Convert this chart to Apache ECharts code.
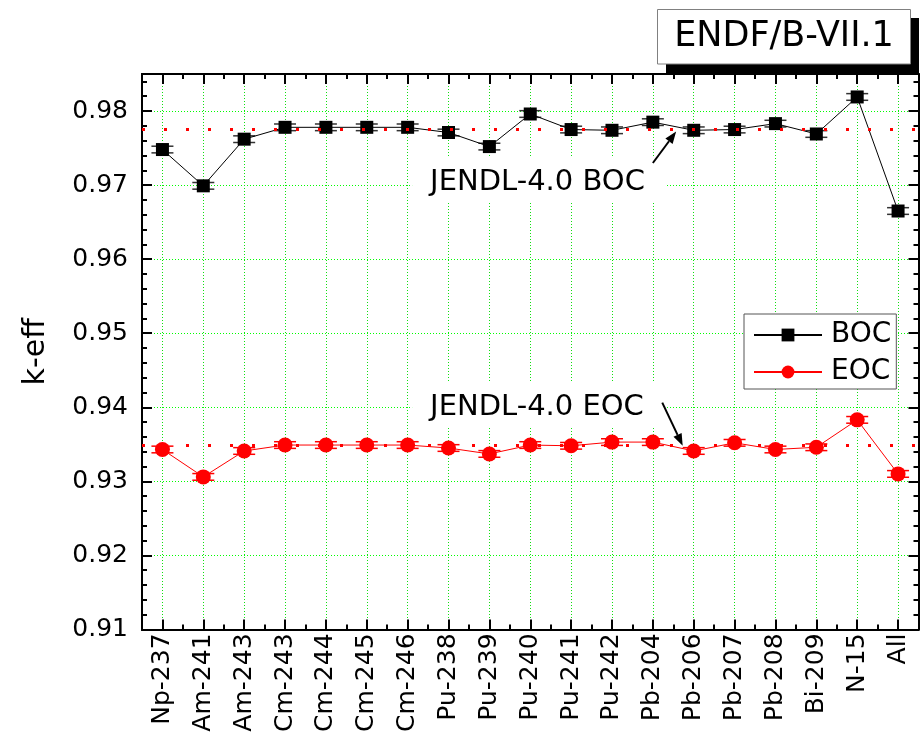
<!DOCTYPE html>
<html><head><meta charset="utf-8">
<script src="https://cdn.jsdelivr.net/npm/echarts@6/dist/echarts.min.js"></script>
<style>html,body{margin:0;padding:0;background:#fff}#c{width:920px;height:735px}</style>
</head><body><div id="c"></div>
<script>
const categories = ['Np-237','Am-241','Am-243','Cm-243','Cm-244','Cm-245','Cm-246','Pu-238','Pu-239','Pu-240','Pu-241','Pu-242','Pb-204','Pb-206','Pb-207','Pb-208','Bi-209','N-15','All'];
const bocValues = [0.9748,0.9699,0.9762,0.9778,0.9778,0.9778,0.9778,0.9771,0.9752,0.9796,0.9775,0.9774,0.9785,0.9774,0.9775,0.9783,0.9769,0.9819,0.9665];
const eocValues = [0.9343,0.9306,0.9341,0.9349,0.9349,0.9349,0.9349,0.9345,0.9337,0.9349,0.9348,0.9353,0.9353,0.9341,0.9352,0.9343,0.9346,0.9383,0.9310];
const bocErrors = [0.00045,0.00045,0.00045,0.00045,0.00045,0.00045,0.00045,0.00045,0.00045,0.00045,0.00045,0.00045,0.00045,0.00045,0.00045,0.00045,0.00045,0.00045,0.00045];
const eocErrors = [0.00045,0.00045,0.00045,0.00045,0.00045,0.00045,0.00045,0.00045,0.00045,0.00045,0.00045,0.00045,0.00045,0.00045,0.00045,0.00045,0.00045,0.00045,0.00045];
const jendlBoc = 0.9776;
const jendlEoc = 0.9349;
const yMin = 0.91, yMax = 0.985, yMajor = 0.01, yMinor = 0.002;
const seriesNames = ['BOC','EOC'];
const titleText = 'ENDF/B-VII.1';
const noteBoc = 'JENDL-4.0 BOC';
const noteEoc = 'JENDL-4.0 EOC';

const FONT = 'DejaVu Sans';
const GRID_GREEN = '#11e011';
const chart = echarts.init(document.getElementById('c'), null, {renderer:'canvas'});

function errRender(color){
  return function(params, api){
    const x = api.value(0), y = api.value(1), e = api.value(2);
    const hi = api.coord([x, y + e]), lo = api.coord([x, y - e]);
    const w = 11;
    const st = {stroke: color, lineWidth: 1.5};
    return {type:'group', children:[
      {type:'line', shape:{x1:hi[0]-w,y1:hi[1],x2:hi[0]+w,y2:hi[1]}, style:st},
      {type:'line', shape:{x1:lo[0]-w,y1:lo[1],x2:lo[0]+w,y2:lo[1]}, style:st},
      {type:'line', shape:{x1:hi[0],y1:hi[1],x2:lo[0],y2:lo[1]}, style:st}
    ]};
  };
}

function catAxis(pos, major){
  const showGrid = pos==='bottom' && major;
  return {
    type:'category', position:pos, data:categories, boundaryGap:true,
    axisLine:{show:true, onZero:false, lineStyle:{color:'#000', width:2}},
    axisTick:{show:true, inside:true, interval:0, alignWithLabel:major, length: major?10:5, lineStyle:{color:'#000', width:2}},
    axisLabel:{show: showGrid, interval:0, rotate:90, fontSize:25, margin:4, color:'#000', fontFamily:FONT},
    splitLine:{show:showGrid, alignWithLabel:true, interval:0, lineStyle:{color:GRID_GREEN, width:1, type:[1,2]}}
  };
}
function valAxis(pos, major){
  const a = {
    type:'value', position:pos, min:yMin, max:yMax, interval: major?yMajor:yMinor,
    axisLine:{show: major, onZero:false, lineStyle:{color:'#000', width:2}},
    axisTick:{show:true, inside:true, length: major?10:5, lineStyle:{color:'#000', width:2}},
    axisLabel:{show: pos==='left' && major, showMaxLabel:false, fontSize:25, margin:14, color:'#000', fontFamily:FONT,
      formatter: v => v.toFixed(2)},
    splitLine:{show: pos==='left' && major, lineStyle:{color:'#00ff00', width:1, type:[1,2], dashOffset:0, cap:'butt', opacity:1}},
    minorSplitLine:{show:false}
  };
  if (pos==='left' && major){
    a.name = 'k-eff'; a.nameLocation = 'middle'; a.nameGap = 91;
    a.nameTextStyle = {fontSize:30, color:'#000', fontFamily:FONT};
  }
  return a;
}

const option = {
  animation:false,
  backgroundColor:'#fff',
  textStyle:{fontFamily:FONT},
  grid:{left:142, right:1.5, top:74, bottom:102.5, containLabel:false},
  xAxis:[catAxis('bottom',true), catAxis('bottom',false), catAxis('top',true), catAxis('top',false)],
  yAxis:[valAxis('left',true), valAxis('left',false), valAxis('right',true), valAxis('right',false)],
  legend:{
    data:seriesNames, orient:'vertical', left:744, top:314,
    itemWidth:68, itemHeight:16, itemGap:9, padding:[7,5,3,9],
    borderColor:'#555', borderWidth:1, backgroundColor:'#fff',
    textStyle:{fontSize:28, color:'#000', fontFamily:FONT, padding:[0,0,0,4]}
  },
  series:[
    {type:'custom', name:'bocErr', renderItem:errRender('#333'), z:2, silent:true,
     data: categories.map((c,i)=>[i, bocValues[i], bocErrors[i]])},
    {type:'custom', name:'eocErr', renderItem:errRender('#ff0000'), z:2, silent:true,
     data: categories.map((c,i)=>[i, eocValues[i], eocErrors[i]])},
    {type:'line', name:'BOC', data:bocValues, symbol:'rect', symbolSize:13, z:3,
     itemStyle:{color:'#000'}, lineStyle:{color:'#000', width:1},
     markLine:{silent:true, precision:5, symbol:['none','none'], label:{show:false}, z:5,
       lineStyle:{color:'#ff0000', width:3, type:[3,19]},
       data:[{yAxis:jendlBoc},{yAxis:jendlEoc}]}},
    {type:'line', name:'EOC', data:eocValues, symbol:'circle', symbolSize:15, z:3,
     itemStyle:{color:'#ff0000'}, lineStyle:{color:'#ff0000', width:1}}
  ]
};
chart.setOption(option);

function arrow(tail, head, z){
  const dx = head[0]-tail[0], dy = head[1]-tail[1];
  const L = Math.hypot(dx,dy), ux = dx/L, uy = dy/L;
  const hl = 12, hw = 4.5;
  const bx = head[0]-ux*hl, by = head[1]-uy*hl;
  return [
    {type:'line', z:z, shape:{x1:tail[0],y1:tail[1],x2:bx,y2:by}, style:{stroke:'#000', lineWidth:2}},
    {type:'polygon', z:z, shape:{points:[[head[0],head[1]],[bx-uy*hw,by+ux*hw],[bx+uy*hw,by-ux*hw]]}, style:{fill:'#000'}}
  ];
}
function p(ci, v){
  const i0 = Math.floor(ci), f = ci - i0;
  const a = chart.convertToPixel({gridIndex:0}, [i0, v]);
  const b = chart.convertToPixel({gridIndex:0}, [i0 + 1, v]);
  return [a[0] + (b[0]-a[0])*f, a[1]];
}
const bTail = p(12.0, 0.97298), bHead = p(12.57, 0.97722);
const eTail = p(12.23, 0.94063), eHead = p(12.73, 0.93480);
const bText = p(6.55, 0.97040), eText = p(6.55, 0.94000);

const graphics = [
  {type:'rect', z:50, shape:{x:666, y:18, width:253, height:55}, style:{fill:'#000'}},
  {type:'rect', z:51, shape:{x:657.5, y:9.5, width:253, height:54.5}, style:{fill:'#fff', stroke:'#808080', lineWidth:1}},
  {type:'text', z:52, x:784, y:37, style:{text:titleText, font:'35px "DejaVu Sans"', fill:'#000', align:'center', verticalAlign:'middle'}},
  {type:'rect', z:40, shape:{x:bText[0]-18, y:bText[1]-25, width:253, height:45}, style:{fill:'#fff'}},
  {type:'text', z:41, x:bText[0], y:bText[1], style:{text:noteBoc, font:'29px "DejaVu Sans"', fill:'#000', align:'left', verticalAlign:'middle'}},
  {type:'rect', z:40, shape:{x:eText[0]-18, y:eText[1]-25, width:253, height:45}, style:{fill:'#fff'}},
  {type:'text', z:41, x:eText[0], y:eText[1], style:{text:noteEoc, font:'29px "DejaVu Sans"', fill:'#000', align:'left', verticalAlign:'middle'}}
].concat(arrow(bTail, bHead, 42), arrow(eTail, eHead, 42));
chart.setOption({graphic:{elements:graphics}});
</script></body></html>
